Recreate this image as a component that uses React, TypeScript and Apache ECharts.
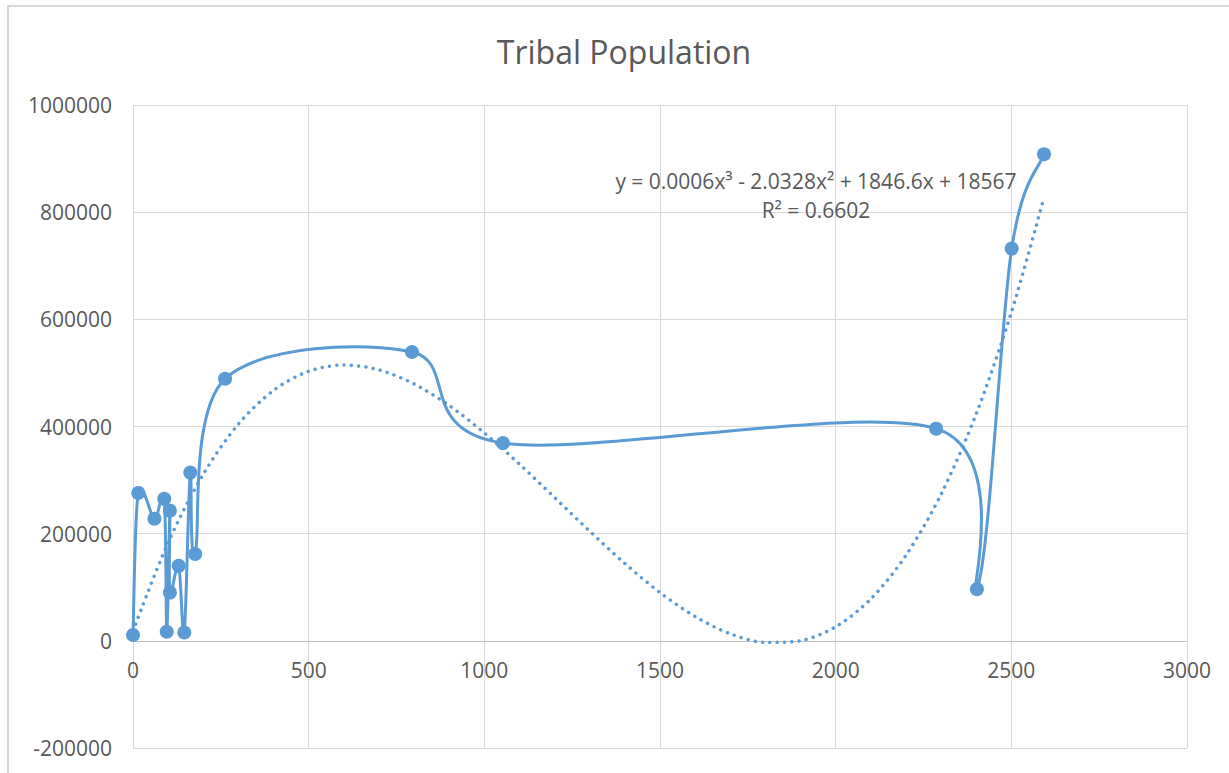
import React, { useEffect, useRef } from "react";
import * as echarts from "echarts";

const TITLE = "Tribal Population";
const EQUATION = "y = 0.0006x³ - 2.0328x² + 1846.6x + 18567";
const R_SQUARED = "R² = 0.6602";

// Observed data points (x, population)
const POP_X = [0, 15, 61, 89, 96, 105, 105, 130, 146, 163, 177, 262, 794, 1053, 2286, 2402, 2501, 2593];
const POP_Y = [11000, 276000, 228000, 265000, 17000, 243000, 90000, 140000, 15500, 314000, 162000, 489000, 539000, 369000, 396000, 96500, 732000, 908000];

// Poly (order 3) trendline values
const TREND_X = [0, 100, 200, 300, 400, 500, 600, 700, 800, 900, 1000, 1100, 1200, 1300, 1400, 1500, 1600, 1700, 1800, 1900, 2000, 2100, 2200, 2300, 2400, 2500, 2593];
const TREND_Y = [18567, 183455, 311021, 404599, 467524, 503130, 514750, 505720, 479373, 439044, 388067, 329776, 267505, 204588, 144360, 90155, 45306, 13149, -2983, 255, 26167, 78117, 159429, 273437, 423476, 612880, 827375];

const X_MIN = 0, X_MAX = 3000, X_STEP = 500;
const Y_MIN = -200000, Y_MAX = 1000000, Y_STEP = 200000;

const BLUE = "#5B9BD5";
const TEXT = "#595959";
const GRID = "#D9D9D9";
const FONT = "'Open Sans', 'Noto Sans', sans-serif";

const GRID_TOP = 105;
const GRID_BOTTOM = 25;
const CHART_H = 773;

function catmullPath(pts: number[][]): string {
  if (!pts.length) return "";
  let d = `M${pts[0][0]},${pts[0][1]}`;
  for (let i = 0; i < pts.length - 1; i++) {
    const p0 = pts[i - 1] || pts[i];
    const p1 = pts[i];
    const p2 = pts[i + 1];
    const p3 = pts[i + 2] || pts[i + 1];
    const c1x = p1[0] + (p2[0] - p0[0]) / 6;
    const c1y = p1[1] + (p2[1] - p0[1]) / 6;
    const c2x = p2[0] - (p3[0] - p1[0]) / 6;
    const c2y = p2[1] - (p3[1] - p1[1]) / 6;
    d += ` C${c1x},${c1y} ${c2x},${c2y} ${p2[0]},${p2[1]}`;
  }
  return d;
}

export default function App() {
  const ref = useRef<HTMLDivElement>(null);
  useEffect(() => {
    if (!ref.current) return;
    const chart = echarts.init(ref.current, null, { renderer: "svg" });
    const points = POP_X.map((x, i) => [x, POP_Y[i]]);
    const trend = TREND_X.map((x, i) => [x, TREND_Y[i]]);
    const gridH = CHART_H - GRID_TOP - GRID_BOTTOM;
    // distance from bottom of grid up to value 0
    const zeroOffset = (gridH * (0 - Y_MIN)) / (Y_MAX - Y_MIN);
    chart.setOption({
      animation: false,
      backgroundColor: "#ffffff",
      grid: {
        left: 133,
        right: 42,
        top: GRID_TOP,
        bottom: GRID_BOTTOM,
        containLabel: false,
        outerBoundsMode: "none",
      },
      xAxis: {
        type: "value",
        min: X_MIN,
        max: X_MAX,
        interval: X_STEP,
        position: "bottom",
        offset: -zeroOffset,
        axisLine: { show: true, onZero: false, lineStyle: { color: "#BFBFBF", width: 1 } },
        axisTick: { show: false },
        axisLabel: {
          color: TEXT,
          fontSize: 21,
          fontFamily: FONT,
          margin: 19,
          formatter: (v: number) => String(v),
        },
        splitLine: { show: true, lineStyle: { color: GRID, width: 1 } },
      },
      yAxis: {
        type: "value",
        min: Y_MIN,
        max: Y_MAX,
        interval: Y_STEP,
        axisLine: { show: false },
        axisTick: { show: false },
        axisLabel: {
          color: TEXT,
          fontSize: 21,
          fontFamily: FONT,
          margin: 21,
          formatter: (v: number) => String(v),
        },
        splitLine: { show: true, lineStyle: { color: GRID, width: 1 } },
      },
      graphic: [
        {
          type: "rect",
          shape: { x: 8, y: 6, width: 1400, height: 900 },
          style: { fill: "none", stroke: GRID, lineWidth: 2 },
          silent: true,
          z: -1,
        },
        {
          type: "text",
          x: 624,
          y: 51,
          style: {
            text: TITLE,
            fill: TEXT,
            font: `32px ${FONT}`,
            align: "center",
            verticalAlign: "middle",
          },
        },
        {
          type: "text",
          x: 816,
          y: 181,
          style: { text: EQUATION, fill: TEXT, font: `21px ${FONT}`, align: "center", verticalAlign: "middle" },
          z: 10,
        },
        {
          type: "text",
          x: 816,
          y: 210,
          style: { text: R_SQUARED, fill: TEXT, font: `21px ${FONT}`, align: "center", verticalAlign: "middle" },
          z: 10,
        },
      ],
      series: [
        {
          type: "line",
          name: "Poly. (Tribal Population)",
          data: trend,
          smooth: 0.3,
          showSymbol: false,
          symbol: "none",
          lineStyle: { color: BLUE, width: 3.5, type: [0.01, 7.3], cap: "round" },
          z: 2,
        },
        {
          type: "custom",
          name: "Tribal Population line",
          data: points,
          renderItem: (params: any, api: any) => {
            if (params.dataIndex !== 0) return null;
            const px = points.map((p) => api.coord(p));
            return {
              type: "path",
              shape: { pathData: catmullPath(px) },
              style: { fill: "none", stroke: BLUE, lineWidth: 3 },
            };
          },
          z: 3,
        },
        {
          type: "scatter",
          name: "Tribal Population",
          data: points,
          symbol: "circle",
          symbolSize: 14,
          itemStyle: { color: BLUE, opacity: 1 },
          z: 4,
        },
      ],
    });
    return () => chart.dispose();
  }, []);
  return (
    <div
      ref={ref}
      style={{ position: "fixed", left: 0, top: 0, width: 1229, height: 773, background: "#fff" }}
    />
  );
}
